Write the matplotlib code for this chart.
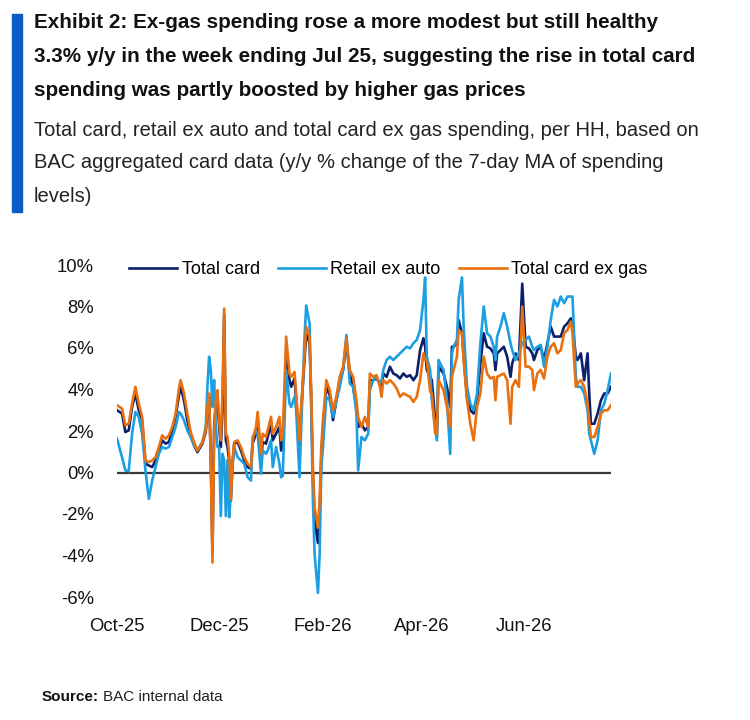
import matplotlib
matplotlib.use("Agg")
import matplotlib.pyplot as plt
import matplotlib.dates as mdates
import matplotlib.patches as mpatches
import pandas as pd

# ---- data (days since 2025-10-01, y/y % change) ----
day_offsets = [0, 3, 5, 7, 9, 11, 13, 15, 17, 19, 21, 23, 25, 27, 29, 31, 33, 35, 37, 38,
               40, 42, 44, 46, 48, 51, 53, 54, 55, 56, 57, 58, 59, 60, 61, 62, 63, 64, 65, 66,
               67, 68, 69, 70, 72, 74, 76, 78, 80, 81, 83, 84, 86, 87, 89, 90, 92, 93, 95, 97,
               98, 99, 101, 103, 104, 106, 107, 109, 110, 112, 113, 115, 116, 117, 118, 120, 121, 122, 123, 125,
               127, 129, 131, 133, 135, 137, 139, 141, 143, 144, 146, 148, 150, 151, 153, 155, 157, 158, 159, 161,
               163, 165, 167, 169, 171, 173, 175, 177, 179, 181, 183, 184, 185, 187, 188, 190, 191, 192, 195, 197,
               199, 200, 201, 203, 204, 206, 207, 209, 211, 213, 215, 217, 219, 221, 223, 225, 226, 227, 229, 231,
               233, 235, 236, 238, 240, 242, 244, 246, 248, 249, 251, 253, 255, 257, 259, 261, 263, 265, 267, 269,
               271, 272, 274, 275, 277, 279, 281, 282, 283, 285, 287, 289, 291, 293, 295]

total_card = [3.0, 2.84, 1.95, 2.03, 3.16, 3.8, 3.0, 2.52, 0.42, 0.34, 0.26, 0.58, 1.06, 1.55, 1.39, 1.47, 2.03, 2.68, 3.73, 4.13,
              3.48, 2.52, 1.79, 1.31, 0.98, 1.39, 1.95, 3.0, 3.65, 0.74, -3.9, 2.19, 3.32, 3.48, 2.19, 1.23, 3.0, 7.6, 1.55, 1.23,
              0.58, -1.35, 0.42, 1.39, 1.47, 1.06, 0.58, 0.26, 0.18, 1.39, 1.87, 2.52, 0.58, 1.47, 1.39, 1.71, 2.35, 1.55, 1.87, 2.19,
              1.06, 1.23, 5.42, 4.45, 4.13, 4.53, 3.48, 1.23, 3.0, 5.42, 6.71, 6.23, 3.48, -0.23, -2.32, -3.4, -2.0, 0.74, 2.19, 4.13,
              3.73, 2.52, 3.48, 4.45, 4.94, 6.23, 4.77, 4.13, 3.16, 2.19, 2.35, 2.03, 2.19, 4.45, 4.45, 4.53, 4.29, 4.13, 4.77, 4.61,
              5.1, 4.77, 4.69, 4.53, 4.77, 4.61, 4.69, 4.45, 4.69, 5.9, 6.47, 6.06, 4.94, 4.61, 4.45, 2.52, 1.71, 5.1, 4.77, 4.13,
              3.16, 6.06, 6.06, 6.23, 7.35, 6.71, 5.58, 3.65, 3.0, 2.84, 3.48, 5.26, 6.71, 6.06, 5.98, 5.74, 4.94, 5.74, 5.9, 6.06,
              5.58, 4.61, 5.26, 5.74, 5.42, 9.1, 6.06, 5.98, 5.74, 5.42, 5.9, 6.06, 5.42, 6.23, 7.03, 6.55, 6.55, 6.55, 7.03, 7.19,
              7.43, 7.19, 5.58, 5.42, 5.74, 4.45, 5.74, 3.81, 2.35, 2.35, 2.84, 3.48, 3.81, 3.81, 4.13]

retail_ex_auto = [1.63, 0.74, 0.1, 0.06, 1.87, 2.92, 2.68, 1.87, 0.1, -1.27, -0.39, 0.26, 0.9, 1.23, 1.15, 1.23, 1.71, 2.19, 2.92, 2.84,
                  2.52, 2.03, 1.71, 1.31, 1.06, 1.47, 2.19, 4.13, 5.58, 4.94, 3.16, 4.45, 2.19, 1.23, 1.23, -2.1, 0.9, 0.58, -2.1, 0.6,
                  -2.16, -1.03, 0.26, 1.23, 0.74, 0.58, 0.42, -0.23, -0.39, 1.71, 2.03, 1.87, -0.06, 1.06, 0.9, 1.06, 1.55, 0.26, 1.23, 0.42,
                  -0.23, -0.15, 4.94, 3.32, 3.16, 3.65, 3.0, -0.23, 2.19, 6.55, 8.05, 7.19, 3.0, -1.35, -3.94, -5.8, -3.94, 0.26, 1.23, 3.65,
                  3.48, 2.68, 3.48, 4.13, 4.94, 6.63, 4.29, 4.13, 2.84, 0.1, 1.71, 1.55, 1.87, 3.97, 4.45, 4.61, 4.29, 4.45, 4.94, 5.42,
                  5.58, 5.42, 5.58, 5.74, 5.9, 6.06, 5.98, 6.23, 6.39, 6.87, 8.32, 9.4, 5.58, 4.94, 3.48, 2.19, 1.55, 5.42, 4.94, 3.48,
                  0.9, 5.74, 6.06, 6.39, 8.32, 9.4, 7.03, 4.13, 3.32, 3.0, 3.81, 6.23, 8.0, 6.71, 6.55, 6.06, 5.42, 6.55, 7.03, 7.68,
                  7.03, 6.23, 5.9, 5.42, 5.74, 6.23, 6.39, 6.55, 6.06, 5.9, 6.06, 6.15, 5.1, 6.06, 7.35, 8.32, 8.0, 8.48, 8.16, 8.48,
                  8.48, 8.48, 4.61, 4.13, 4.13, 3.81, 3.0, 1.87, 1.55, 0.9, 1.55, 3.0, 3.32, 3.97, 4.77]

total_card_ex_gas = [3.24, 3.08, 2.27, 2.35, 3.32, 4.13, 3.32, 2.68, 0.58, 0.5, 0.58, 0.74, 1.23, 1.79, 1.63, 1.79, 2.19, 2.84, 4.05, 4.45,
                     3.81, 2.84, 1.95, 1.47, 1.06, 1.47, 2.03, 3.16, 3.81, 0.58, -4.34, 1.87, 3.48, 3.97, 2.52, 1.55, 3.81, 7.9, 1.87, 1.71,
                     0.9, -1.27, 0.58, 1.47, 1.55, 1.23, 0.74, 0.42, 0.26, 1.55, 2.19, 2.92, 0.9, 1.87, 1.71, 2.03, 2.68, 1.87, 2.19, 2.68,
                     1.55, 1.87, 6.55, 4.77, 4.61, 4.85, 3.81, 1.55, 3.16, 5.74, 7.03, 6.55, 3.81, 0.26, -1.68, -2.65, -1.35, 1.23, 2.52, 4.45,
                     3.97, 3.0, 3.65, 4.61, 5.1, 6.47, 4.94, 4.61, 3.48, 2.68, 2.19, 2.68, 2.19, 4.77, 4.61, 4.69, 4.13, 3.65, 4.45, 4.29,
                     4.45, 4.29, 4.05, 3.65, 3.81, 3.73, 3.65, 3.4, 3.65, 4.45, 5.74, 5.42, 5.42, 3.89, 3.81, 1.87, 1.87, 4.45, 3.97, 3.16,
                     2.19, 4.61, 4.94, 5.58, 6.87, 6.71, 5.42, 3.48, 2.35, 1.55, 3.16, 3.81, 5.58, 4.77, 4.53, 4.61, 3.48, 4.61, 4.69, 4.77,
                     4.45, 2.35, 4.13, 4.45, 4.13, 8.0, 5.1, 5.1, 4.94, 3.97, 4.77, 4.94, 4.53, 5.58, 6.06, 6.23, 5.74, 5.9, 6.71, 6.87,
                     7.27, 6.71, 4.13, 4.29, 4.45, 4.13, 3.32, 2.52, 1.71, 1.71, 2.19, 2.84, 3.0, 3.0, 3.24]

series_names = ["Total card", "Retail ex auto", "Total card ex gas"]
series_colors = ["#0c1f6b", "#1c9fe2", "#e8700f"]

y_ticks = [-6, -4, -2, 0, 2, 4, 6, 8, 10]
x_tick_dates = ["2025-10-01", "2025-12-01", "2026-02-01", "2026-04-01", "2026-06-01"]

title_lines = ["Exhibit 2: Ex-gas spending rose a more modest but still healthy",
               "3.3% y/y in the week ending Jul 25, suggesting the rise in total card",
               "spending was partly boosted by higher gas prices"]
subtitle_lines = ["Total card, retail ex auto and total card ex gas spending, per HH, based on",
                  "BAC aggregated card data (y/y % change of the 7-day MA of spending",
                  "levels)"]

# ---- figure ----
plt.rcParams["font.family"] = ["Liberation Sans", "DejaVu Sans"]

W, H = 750, 720
fig = plt.figure(figsize=(W / 100, H / 100), dpi=100)

def fx(px):
    return px / W

def fy(py):
    return 1 - py / H

# blue accent bar
fig.patches.append(mpatches.Rectangle((fx(12), fy(212)), fx(10), (212 - 14) / H,
                                      transform=fig.transFigure, color="#0a5bc4", zorder=5))

for i, line in enumerate(title_lines):
    fig.text(fx(34), fy(22 + 34 * i), line, fontsize=14.9, fontweight="bold",
             color="#111111", va="center", ha="left")
for i, line in enumerate(subtitle_lines):
    fig.text(fx(34), fy(130 + 33 * i), line, fontsize=14.5, color="#222222",
             va="center", ha="left")

ax = fig.add_axes([fx(117), fy(597), fx(611) - fx(117), (597 - 265) / H])

dates = pd.Timestamp("2025-10-01") + pd.to_timedelta(day_offsets, unit="D")
all_series = [total_card, retail_ex_auto, total_card_ex_gas]
for k, (vals, name, col) in enumerate(zip(all_series, series_names, series_colors)):
    ax.plot(dates, vals, color=col, lw=1.9, label=name, zorder=3 + k)

ax.axhline(0, color="#3a3a3a", lw=1.6, zorder=2)

ax.set_ylim(-6, 10)
ax.set_xlim(dates[0], dates[-1])
ax.set_yticks(y_ticks)
ax.set_yticklabels([f"{v}%" for v in y_ticks])
xt = pd.to_datetime(x_tick_dates)
ax.set_xticks(xt)
ax.xaxis.set_major_formatter(mdates.DateFormatter("%b-%y"))
ax.tick_params(axis="both", length=0, labelsize=13.3, colors="#111111")
ax.tick_params(axis="y", pad=16.5)
ax.tick_params(axis="x", pad=15)
for s in ax.spines.values():
    s.set_visible(False)

leg = ax.legend(loc="upper left", bbox_to_anchor=(fx(129), fy(261)), bbox_transform=fig.transFigure,
                ncol=3, frameon=False, fontsize=13, handlelength=2.66, handletextpad=0.25,
                columnspacing=1.0, borderpad=0, borderaxespad=0)
for h in leg.get_lines():
    h.set_linewidth(1.9)

src_bold = fig.text(fx(42), fy(697), "Source:", fontsize=11, fontweight="bold",
                    color="#111111", va="center", ha="left")
fig.canvas.draw()
bb = src_bold.get_window_extent(renderer=fig.canvas.get_renderer())
fig.text(fx(bb.x1 + 4), fy(697), "BAC internal data", fontsize=11, color="#222222",
         va="center", ha="left")

fig.savefig("out.png", dpi=100, facecolor="white")
